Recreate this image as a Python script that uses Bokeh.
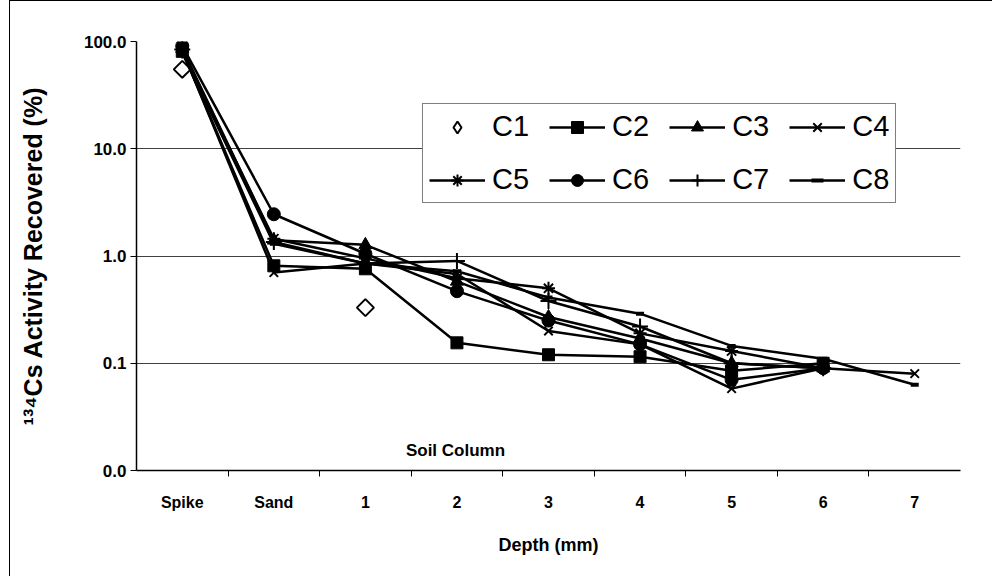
import math
from bokeh.plotting import figure
from bokeh.models import (Range1d, FixedTicker, Legend, LegendItem, Label,
                          ColumnDataSource)
from bokeh.embed import file_html
from bokeh.resources import INLINE

nan = float("nan")

# ---- data ----
categories = ["Spike", "Sand", "1", "2", "3", "4", "5", "6", "7"]
C1 = [55, nan, 0.33, nan, nan, nan, nan, nan, nan]
C2 = [81, 0.81, 0.76, 0.155, 0.12, 0.115, 0.085, 0.10, nan]
C3 = [86, 1.40, 1.27, 0.58, 0.27, 0.17, 0.10, 0.09, nan]
C4 = [83, 0.70, 0.85, 0.68, 0.20, 0.15, 0.058, 0.09, 0.08]
C5 = [80, 1.45, 0.95, 0.62, 0.50, 0.19, 0.13, 0.09, nan]
C6 = [91, 2.45, 1.05, 0.47, 0.25, 0.15, 0.07, 0.09, nan]
C7 = [84, 1.35, 0.85, 0.90, 0.38, 0.22, 0.10, 0.09, nan]
C8 = [78, 1.30, 0.85, 0.72, 0.41, 0.29, 0.145, 0.11, 0.063]
series_names = ["C1", "C2", "C3", "C4", "C5", "C6", "C7", "C8"]
series_values = [C1, C2, C3, C4, C5, C6, C7, C8]
y_ticks = [0.01, 0.1, 1, 10, 100]
y_tick_labels = ["0.0", "0.1", "1.0", "10.0", "100.0"]

FONT = "Liberation Sans"

# page offset for the chart-area border (left line at x=9, top line at y=0)
OX, OY = 10, 1
W, H = 993 - OX, 577 - OY
# frame in page pixels: x 136..960, y 41..470
FL, FR, FT, FB = 136 - OX, 960 - OX, 41 - OY, 470 - OY

p = figure(width=W, height=H, y_axis_type="log",
           x_range=Range1d(0, len(categories)), y_range=Range1d(0.01, 100),
           output_backend="svg", toolbar_location=None,
           min_border_left=FL, min_border_right=W - FR,
           min_border_top=FT, min_border_bottom=H - FB)
p.styles = {"margin-left": "9px", "border-left": "1px solid black",
            "border-top": "1px solid black"}
p.outline_line_color = None
p.background_fill_color = "white"
p.border_fill_color = "white"

xs = [i + 0.5 for i in range(len(categories))]

styles = {
    "C2": dict(marker="square", size=12, fill_color="black", line_color="black", line_width=1),
    "C3": dict(marker="triangle", size=13, fill_color="black", line_color="black", line_width=1),
    "C4": dict(marker="x", size=12, fill_color="black", line_color="black", line_width=2),
    "C5": dict(marker="asterisk", size=13, fill_color="black", line_color="black", line_width=2),
    "C6": dict(marker="circle", size=13, fill_color="black", line_color="black", line_width=1),
    "C7": dict(marker="cross", size=16, fill_color="black", line_color="black", line_width=2),
    "C8": dict(marker="dash", size=8, fill_color="black", line_color="black", line_width=4),
}

items = []
for name, vals in zip(series_names, series_values):
    src = ColumnDataSource(dict(x=xs, y=vals))
    if name == "C1":
        # markers only (open diamond)
        p.scatter("x", "y", source=src, marker="square", size=12, angle=math.pi / 4,
                  fill_color="white", line_color="black", line_width=2)
        leg = p.scatter("x", "y", source=ColumnDataSource(dict(x=[nan], y=[nan])),
                        marker="diamond", size=26, fill_color="white",
                        line_color="black", line_width=2)
        items.append(LegendItem(label=name, renderers=[leg]))
        continue
    rl = p.line("x", "y", source=src, line_color="black", line_width=2.5)
    rs = p.scatter("x", "y", source=src, **styles[name])
    items.append(LegendItem(label=name, renderers=[rl, rs]))

# axes
xa = p.xaxis[0]
xa.ticker = FixedTicker(ticks=xs, minor_ticks=list(range(1, len(categories))))
xa.major_label_overrides = {x: c for x, c in zip(xs, categories)}
xa.major_tick_line_color = None
xa.minor_tick_in = 0
xa.minor_tick_out = 6
xa.minor_tick_line_color = "black"
xa.axis_line_color = "black"
xa.axis_line_width = 1.5
xa.major_label_text_font = FONT
xa.major_label_text_font_style = "bold"
xa.major_label_text_font_size = "16px"
xa.major_label_text_color = "black"
xa.major_label_standoff = 17
xa.axis_label = "Depth (mm)"
xa.axis_label_text_font = FONT
xa.axis_label_text_font_style = "bold"
xa.axis_label_text_font_size = "18px"
xa.axis_label_text_color = "black"
xa.axis_label_standoff = 21

ya = p.yaxis[0]
ya.ticker = FixedTicker(ticks=y_ticks)
ya.major_label_overrides = {t: l for t, l in zip(y_ticks, y_tick_labels)}
ya.minor_tick_line_color = None
ya.major_tick_in = 0
ya.major_tick_out = 6
ya.axis_line_color = "black"
ya.axis_line_width = 1.5
ya.major_label_text_font = FONT
ya.major_label_text_font_style = "bold"
ya.major_label_text_font_size = "17px"
ya.major_label_text_color = "black"
ya.major_label_standoff = 4
ya.axis_label = "¹³⁴Cs Activity Recovered (%)"
ya.axis_label_text_font = FONT
ya.axis_label_text_font_style = "bold"
ya.axis_label_text_font_size = "25px"
ya.axis_label_text_color = "black"
ya.axis_label_standoff = 34

p.xgrid.visible = False
p.ygrid.ticker = FixedTicker(ticks=[0.1, 1, 10, 100])
p.ygrid.grid_line_color = "#404040"
p.ygrid.grid_line_width = 1

# "Soil Column" inside plot
p.add_layout(Label(x=455 - 136, y=470 - 450, x_units="screen", y_units="screen",
                   text="Soil Column", text_font=FONT, text_font_style="bold",
                   text_font_size="17px", text_align="center", text_baseline="middle",
                   text_color="black"))

legend = Legend(items=items, orientation="horizontal", nrows=2,
                location=(422 - 136, 470 - 203), padding=6, spacing=20,
                glyph_width=56, glyph_height=30, label_standoff=7,
                label_text_font=FONT, label_text_font_size="29px",
                label_text_color="black", border_line_color="black",
                border_line_width=1, background_fill_color="white",
                background_fill_alpha=1, margin=0)
p.add_layout(legend, "center")

open("out.html", "w").write(file_html(p, INLINE))
